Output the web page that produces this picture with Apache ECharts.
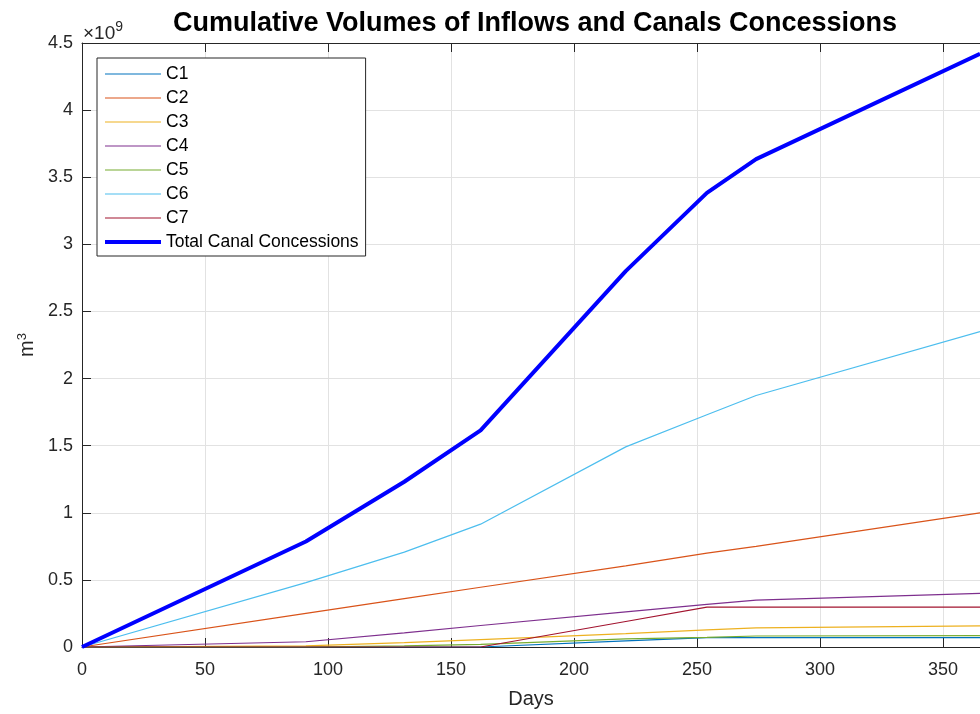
<!DOCTYPE html>
<html>
<head>
<meta charset="utf-8">
<title>Cumulative Volumes of Inflows and Canals Concessions</title>
<script src="https://cdn.jsdelivr.net/npm/echarts@6/dist/echarts.min.js"></script>
<style>
  html, body { margin: 0; padding: 0; background: #fff; }
  #chart { width: 980px; height: 714px; }
</style>
</head>
<body>
<div id="chart"></div>
<script>
// days where the cumulative volumes change slope
const days = [0, 91, 131, 162, 221, 254, 274, 365];

// cumulative volumes, in units of 10^9 m3
const c1 = [0, 0, 0, 0, 0.045, 0.07, 0.07, 0.07];
const c2 = [0, 0.25, 0.36, 0.445, 0.605, 0.70, 0.75, 1.0];
const c3 = [0, 0.008, 0.032, 0.055, 0.10, 0.128, 0.143, 0.157];
const c4 = [0, 0.039, 0.105, 0.16, 0.262, 0.318, 0.349, 0.40];
const c5 = [0, 0, 0.008, 0.02, 0.06, 0.072, 0.082, 0.085];
const c6 = [0, 0.48, 0.707, 0.915, 1.491, 1.73, 1.874, 2.35];
const c7 = [0, 0, 0, 0, 0.19, 0.297, 0.297, 0.297];
const total = [0, 0.786, 1.231, 1.614, 2.80, 3.383, 3.635, 4.42];

const yTicks = ['0', '0.5', '1', '1.5', '2', '2.5', '3', '3.5', '4', '4.5'];

const names = ['C1', 'C2', 'C3', 'C4', 'C5', 'C6', 'C7', 'Total Canal Concessions'];
const values = [c1, c2, c3, c4, c5, c6, c7, total];
const colors = ['#0072BD', '#D95319', '#EDB120', '#7E2F8E', '#77AC30', '#4DBEEE', '#A2142F', '#0000FF'];

const axisColor = '#262626';
const gridColor = '#e2e2e2';
const font = 'Liberation Sans, Arial, Helvetica, sans-serif';

const series = names.map((name, i) => ({
  name: name,
  type: 'line',
  symbol: 'none',
  data: days.map((d, j) => [d, values[i][j]]),
  lineStyle: { color: colors[i], width: i === 7 ? 4 : 1.2 },
  itemStyle: { color: colors[i] },
  z: i === 7 ? 5 : 3,
}));

const chart = echarts.init(document.getElementById('chart'));
chart.setOption({
  animation: false,
  backgroundColor: '#fff',
  title: {
    text: 'Cumulative Volumes of Inflows and Canals Concessions',
    left: 530,
    textAlign: 'center',
    top: 5,
    textStyle: { fontFamily: font, fontSize: 27, fontWeight: 'bold', color: '#000' },
  },
  graphic: [{
    type: 'text',
    left: 83,
    top: 20,
    style: {
      text: '{a|×10}{b|9}',
      rich: {
        a: { fontFamily: font, fontSize: 19, fill: axisColor, verticalAlign: 'bottom' },
        b: { fontFamily: font, fontSize: 14, fill: axisColor, verticalAlign: 'top', padding: [0, 0, 9, 0] },
      },
    },
  }],
  legend: {
    orient: 'vertical',
    left: 97,
    top: 58,
    padding: [7, 7, 5, 6],
    itemWidth: 56,
    itemHeight: 16,
    itemGap: 6,
    backgroundColor: '#fff',
    borderColor: axisColor,
    borderWidth: 1,
    borderRadius: 0,
    data: names.map((n, i) => ({ name: n, lineStyle: { width: i === 7 ? 4 : 1.2 } })),
    itemStyle: { opacity: 0 },
    textStyle: { fontFamily: font, fontSize: 17.5, color: '#000', lineHeight: 16 },
  },
  grid: { left: 82, right: -5, top: 43, bottom: 65, containLabel: false },
  xAxis: [{
    type: 'value',
    min: 0,
    max: 365,
    interval: 50,
    name: 'Days',
    nameLocation: 'middle',
    nameGap: 42,
    nameTextStyle: { fontFamily: font, fontSize: 20, color: axisColor },
    axisLine: { show: true, lineStyle: { color: axisColor, width: 1 } },
    axisTick: { show: true, inside: true, length: 9, lineStyle: { color: axisColor } },
    axisLabel: { fontFamily: font, fontSize: 18, color: axisColor, margin: 14, showMaxLabel: false },
    splitLine: { show: true, lineStyle: { color: gridColor, width: 1 } },
  }, {
    type: 'value',
    position: 'top',
    min: 0,
    max: 365,
    interval: 50,
    axisLine: { show: true, onZero: false, lineStyle: { color: axisColor, width: 1 } },
    axisTick: { show: true, inside: true, length: 9, lineStyle: { color: axisColor } },
    axisLabel: { show: false },
    splitLine: { show: false },
  }],
  yAxis: {
    type: 'value',
    min: 0,
    max: 4.5,
    interval: 0.5,
    name: '{a|m}{b|3}',
    nameLocation: 'middle',
    nameRotate: 90,
    nameGap: 42,
    nameTextStyle: {
      rich: {
        a: { fontFamily: font, fontSize: 20, color: axisColor },
        b: { fontFamily: font, fontSize: 13, color: axisColor, verticalAlign: 'top', padding: [0, 0, 10, 0] },
      },
    },
    axisLine: { show: true, lineStyle: { color: axisColor, width: 1 } },
    axisTick: { show: true, inside: true, length: 9, lineStyle: { color: axisColor } },
    axisLabel: {
      fontFamily: font,
      fontSize: 18,
      color: axisColor,
      margin: 9,
      formatter: (v) => yTicks[Math.round(v / 0.5)],
    },
    splitLine: { show: true, lineStyle: { color: gridColor, width: 1 } },
  },
  series: series,
});
</script>
</body>
</html>
